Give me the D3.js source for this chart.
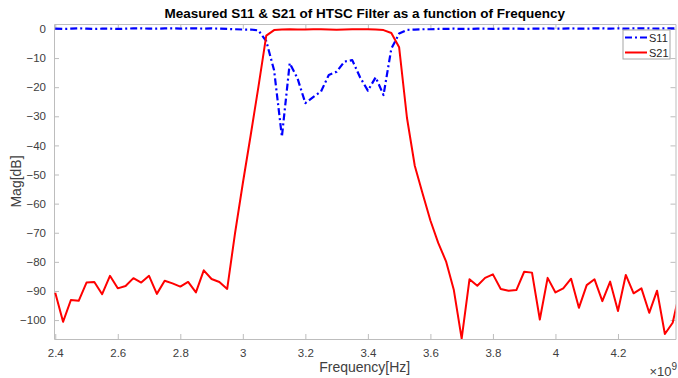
<!DOCTYPE html>
<html>
<head>
<meta charset="utf-8">
<script src="https://cdn.jsdelivr.net/npm/d3@7"></script>
<style>
  html, body { margin: 0; padding: 0; background: #fff; }
  svg { display: block; font-family: 'Liberation Sans', Arial, sans-serif; }
</style>
</head>
<body>
<div id="chart"></div>
<script>
// frequency in GHz (axis shows x10^9 Hz)
const freq = [
    2.400, 2.425, 2.450, 2.475, 2.500, 2.525, 2.550, 2.575, 2.600, 2.625,
    2.650, 2.675, 2.700, 2.725, 2.750, 2.775, 2.800, 2.825, 2.850, 2.875,
    2.900, 2.925, 2.950, 2.975, 3.000, 3.025, 3.050, 3.075, 3.100, 3.125,
    3.150, 3.175, 3.200, 3.225, 3.250, 3.275, 3.300, 3.325, 3.350, 3.375,
    3.400, 3.425, 3.450, 3.475, 3.500, 3.525, 3.550, 3.575, 3.600, 3.625,
    3.650, 3.675, 3.700, 3.725, 3.750, 3.775, 3.800, 3.825, 3.850, 3.875,
    3.900, 3.925, 3.950, 3.975, 4.000, 4.025, 4.050, 4.075, 4.100, 4.125,
    4.150, 4.175, 4.200, 4.225, 4.250, 4.275, 4.300, 4.325, 4.350, 4.375,
    4.400
];

const s11 = [
    0.1, 0.0, 0.1, 0.2, 0.1, 0.0, 0.1, 0.1, 0.0, 0.1,
    0.2, 0.2, 0.1, 0.1, 0.2, 0.2, 0.1, 0.2, 0.2, 0.1,
    0.2, 0.1, 0.0, -0.1, -0.2, -0.2, -0.5, -4.2, -14.2, -37.0,
    -11.8, -17.0, -25.5, -23.4, -21.5, -15.8, -14.7, -11.2, -10.7, -16.6,
    -21.2, -16.6, -22.7, -6.8, -1.6, -0.3, -0.2, -0.1, -0.1, 0.0,
    0.0, 0.1, 0.0, 0.0, 0.1, 0.1, 0.0, 0.1, 0.1, 0.1,
    0.0, 0.1, 0.1, 0.2, 0.1, 0.1, 0.2, 0.1, 0.1, 0.2,
    0.2, 0.1, 0.2, 0.1, 0.2, 0.2, 0.2, 0.1, 0.2, 0.2,
    0.2
];

const s21 = [
    -90.6, -100.6, -93.1, -93.4, -87.1, -86.9, -91.1, -84.8, -89.1, -88.3,
    -85.6, -87.1, -84.8, -91.0, -86.5, -87.4, -88.5, -86.9, -90.5, -82.9,
    -85.9, -86.9, -89.3, -70.2, -53.0, -36.6, -19.8, -2.3, -0.4, -0.2,
    -0.1, -0.2, -0.2, -0.1, -0.1, -0.2, -0.3, -0.2, -0.1, -0.1,
    -0.1, -0.2, -0.4, -1.4, -6.3, -30.5, -47.0, -56.5, -65.8, -73.5,
    -79.8, -89.7, -106.4, -86.0, -88.2, -85.5, -84.3, -89.3, -89.9, -89.7,
    -83.4, -83.7, -99.8, -85.5, -90.5, -89.1, -85.8, -95.8, -88.0, -86.0,
    -93.5, -86.8, -96.9, -84.5, -90.8, -89.1, -97.5, -89.9, -104.8, -100.9,
    -89.0
];

const xTicks = [2.4, 2.6, 2.8, 3.0, 3.2, 3.4, 3.6, 3.8, 4.0, 4.2];
const yTicks = [0, -10, -20, -30, -40, -50, -60, -70, -80, -90, -100];

const series = [
    { label: 'S11', values: s11, color: '#0000ff', dash: '7,3,2,3', width: 2.2 },
    { label: 'S21', values: s21, color: '#ff0000', dash: null, width: 2 }
];

const W = 678, H = 378;
const margin = { top: 24, right: 2.5, bottom: 39, left: 54 };
const width = W - margin.left - margin.right;
const height = H - margin.top - margin.bottom;

const axisColor = '#bdbdbd';
const textColor = '#404040';

const svg = d3.select('#chart')
    .append('svg')
    .attr('width', W)
    .attr('height', H);

svg.append('defs').append('clipPath')
    .attr('id', 'plot-clip')
    .append('rect')
    .attr('x', 0).attr('y', 0)
    .attr('width', width).attr('height', height);

const g = svg.append('g')
    .attr('transform', 'translate(' + margin.left + ',' + margin.top + ')');

const x = d3.scaleLinear()
    .domain([2.396, 4.384])
    .range([0, width]);

const y = d3.scaleLinear()
    .domain([-106.5, 1.7])
    .range([height, 0]);

function styleAxis(sel) {
    sel.select('.domain').attr('stroke', axisColor);
    sel.selectAll('.tick line').attr('stroke', axisColor);
    sel.selectAll('.tick text')
        .attr('fill', textColor)
        .style('font-size', '11.5px');
}

g.append('g')
    .attr('transform', 'translate(0,' + height + ')')
    .call(d3.axisBottom(x).tickValues(xTicks).tickSize(-5).tickSizeOuter(0).tickPadding(10)
        .tickFormat(function(d) { return String(+d.toFixed(1)); }))
    .call(styleAxis);

g.append('g')
    .call(d3.axisTop(x).tickValues(xTicks).tickSize(-5).tickSizeOuter(0).tickFormat(''))
    .call(styleAxis);

g.append('g')
    .call(d3.axisLeft(y).tickValues(yTicks).tickSize(-5).tickSizeOuter(0).tickPadding(8))
    .call(styleAxis);

g.append('g')
    .attr('transform', 'translate(' + width + ',0)')
    .call(d3.axisRight(y).tickValues(yTicks).tickSize(-5).tickSizeOuter(0).tickFormat(''))
    .call(styleAxis);

const line = d3.line()
    .x(function(d) { return x(d.f); })
    .y(function(d) { return y(d.v); });

const plot = g.append('g').attr('clip-path', 'url(#plot-clip)');

series.forEach(function(s) {
    const data = freq.map(function(f, i) { return { f: f, v: s.values[i] }; });
    plot.append('path')
        .datum(data)
        .attr('fill', 'none')
        .attr('stroke', s.color)
        .attr('stroke-width', s.width)
        .attr('stroke-linejoin', 'round')
        .attr('stroke-dasharray', s.dash)
        .attr('d', line);
});

// title and axis labels
svg.append('text')
    .attr('x', margin.left + width / 2)
    .attr('y', 18)
    .attr('text-anchor', 'middle')
    .attr('fill', '#000')
    .style('font-size', '13.5px')
    .style('font-weight', 'bold')
    .text('Measured S11 & S21 of HTSC Filter as a function of Frequency');

svg.append('text')
    .attr('x', margin.left + width / 2)
    .attr('y', 372)
    .attr('text-anchor', 'middle')
    .attr('fill', textColor)
    .style('font-size', '14px')
    .text('Frequency[Hz]');

svg.append('text')
    .attr('transform', 'translate(21,' + (margin.top + height / 2) + ') rotate(-90)')
    .attr('text-anchor', 'middle')
    .attr('fill', textColor)
    .style('font-size', '14px')
    .text('Mag[dB]');

const expo = svg.append('text')
    .attr('x', 677)
    .attr('y', 376)
    .attr('text-anchor', 'end')
    .attr('fill', textColor)
    .style('font-size', '13px');
expo.append('tspan').text('\u00d710');
expo.append('tspan').attr('dy', -6).style('font-size', '10px').text('9');

// legend
const legend = svg.append('g').attr('transform', 'translate(623,30)');
legend.append('rect')
    .attr('width', 47)
    .attr('height', 29)
    .attr('fill', '#fff')
    .attr('stroke', '#a6a6a6')
    .attr('stroke-width', 1);

series.forEach(function(s, i) {
    const ly = 7.5 + i * 15;
    legend.append('line')
        .attr('x1', 2).attr('x2', 24)
        .attr('y1', ly).attr('y2', ly)
        .attr('stroke', s.color)
        .attr('stroke-width', s.width)
        .attr('stroke-dasharray', s.dash);
    legend.append('text')
        .attr('x', 26)
        .attr('y', ly + 4)
        .attr('fill', '#262626')
        .style('font-size', '11px')
        .text(s.label);
});
</script>
</body>
</html>
